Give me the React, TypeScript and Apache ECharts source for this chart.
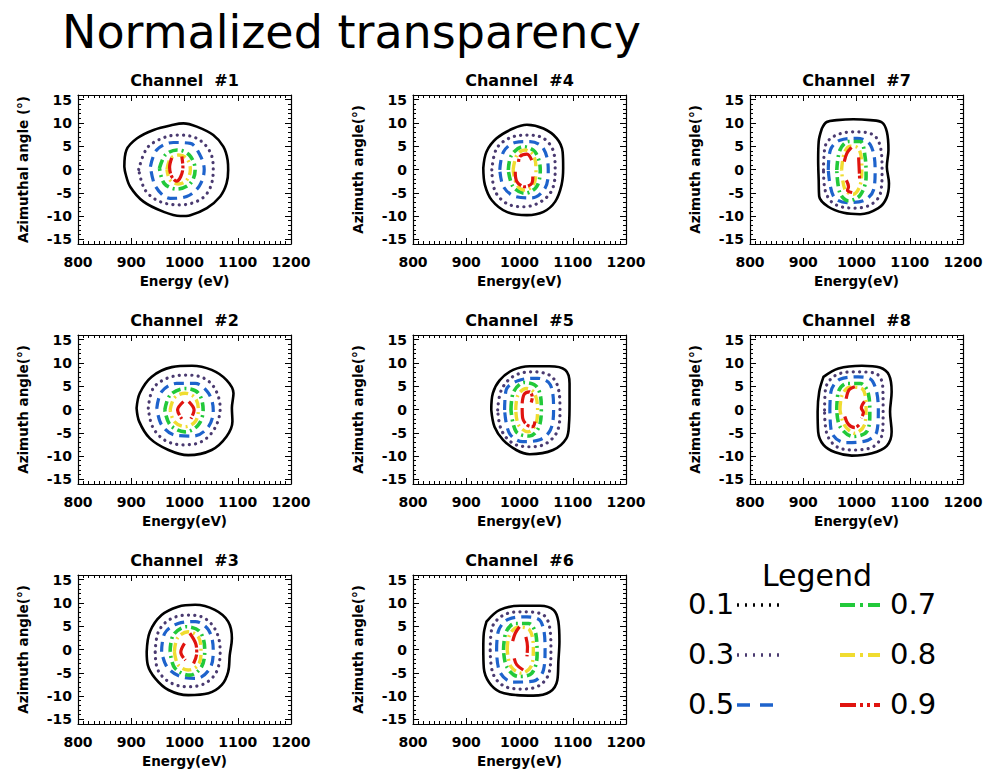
import React, { useEffect, useRef } from 'react';
import * as echarts from 'echarts';

// ---------- axes ----------
const xMin = 800;
const xMax = 1200;
const xStep = 100;
const yMin = -16;
const yMax = 16;
const yMajorTicks = [-15, -10, -5, 0, 5, 10, 15];

// ---------- contour levels ----------
const levelNames = ['0.1', '0.3', '0.5', '0.7', '0.8', '0.9'];

// ---------- contour data per channel: [energy eV, angle deg] ----------
const ch1 = {
  black: [[887, 0.6], [891, 4.2], [911, 6.7], [942, 8.5], [979, 9.6], [998, 9.9], [1023, 9.2], [1054, 7.4], [1073, 4.9], [1081, 2.0], [1082, -0.1], [1079, -3.0], [1067, -5.8], [1042, -8.3], [1011, -9.8], [992, -10.0], [961, -9.1], [923, -6.9], [898, -3.7], [889, -0.8]],
  purple: [[914, 0], [929, 4.5], [954, 6.5], [986, 7.4], [1023, 6.7], [1048, 3.8], [1054, 0], [1048, -4.0], [1029, -6.5], [992, -7.6], [954, -6.9], [926, -4.4]],
  blue: [[936, 0.6], [948, 4.2], [979, 5.8], [1011, 5.6], [1029, 3.1], [1037, 0], [1028, -3.5], [1004, -5.8], [973, -6.2], [946, -3.7]],
  green: [[953, 0.3], [964, 3.1], [986, 4.2], [1009, 3.1], [1020, 0], [1011, -3.0], [986, -4.2], [962, -3.0]],
  yellow: [[967, 0], [974, 2.4], [989, 3.1], [1004, 2.4], [1011, 0], [1004, -2.3], [989, -3.1], [973, -2.3]],
  red: [[[976, 2.5], [972, 0.5], [976, -1.5], [985, -2.5], [993, -1.5], [997, 0.5], [995, 2.8]]],
};

const ch2 = {
  black: [[910, 0.3], [916, 3.5], [938, 7.0], [976, 9.1], [1014, 9.4], [1051, 8.5], [1079, 6.3], [1092, 3.5], [1089, 0.3], [1090, -2.6], [1079, -5.8], [1051, -8.7], [1007, -9.8], [970, -8.7], [935, -6.2], [915, -2.6]],
  purple: [[932, 0.3], [941, 4.5], [967, 6.7], [1001, 7.4], [1035, 6.8], [1057, 4.5], [1067, 0.3], [1057, -4.0], [1032, -6.9], [998, -7.6], [963, -6.6], [940, -3.7]],
  blue: [[948, 0.3], [957, 3.8], [985, 5.6], [1020, 5.6], [1045, 3.5], [1054, -0.1], [1045, -3.7], [1017, -5.7], [982, -5.5], [957, -3.3]],
  green: [[963, -0.1], [973, 3.1], [1001, 4.5], [1026, 3.5], [1035, -0.1], [1026, -3.3], [1001, -4.8], [973, -3.3]],
  yellow: [[973, -0.1], [981, 2.5], [1001, 3.5], [1020, 2.5], [1026, -0.1], [1020, -2.6], [1001, -3.7], [981, -2.6]],
  red: [[[998, 1.7], [987, -0.1], [995, -2.0]], [[1008, 1.7], [1018, -0.1], [1012, -2.0]]],
};

const ch3 = {
  black: [[929, -0.5], [935, 3.8], [957, 7.4], [988, 9.2], [1020, 9.6], [1057, 8.5], [1082, 6.0], [1089, 2.4], [1085, -1.2], [1082, -4.8], [1070, -7.6], [1045, -9.4], [1007, -9.8], [970, -8.7], [945, -6.2], [931, -3.3]],
  purple: [[945, -0.5], [951, 3.8], [973, 6.5], [1007, 7.4], [1038, 6.7], [1060, 3.8], [1067, -0.5], [1060, -4.8], [1038, -7.3], [1007, -8.0], [973, -7.1], [950, -4.4]],
  blue: [[957, -0.5], [963, 3.5], [988, 5.6], [1020, 6.0], [1045, 4.2], [1054, -0.1], [1048, -4.0], [1023, -6.2], [992, -5.8], [967, -3.7]],
  green: [[973, -0.5], [979, 3.1], [1004, 4.9], [1029, 3.8], [1038, -0.1], [1032, -3.7], [1010, -5.5], [982, -4.0]],
  yellow: [[981, -0.5], [987, 2.5], [1007, 3.8], [1026, 2.7], [1031, -0.5], [1026, -3.3], [1007, -4.4], [988, -3.3]],
  red: [[[1000, 1.3], [993, -0.6], [1002, -2.3]], [[1010, 3.5], [1021, 1.3], [1023, -0.8], [1017, -3.0]]],
};

const ch4 = {
  black: [[932, 0.3], [938, 3.8], [957, 6.7], [988, 8.8], [1014, 9.6], [1045, 8.8], [1070, 6.7], [1081, 3.8], [1082, 0.3], [1079, -3.3], [1067, -6.9], [1045, -9.1], [1014, -9.8], [976, -9.1], [948, -6.6], [935, -3.3]],
  purple: [[948, -0.1], [957, 4.5], [982, 6.8], [1014, 7.4], [1045, 6.7], [1064, 3.8], [1067, -0.1], [1061, -4.4], [1039, -7.0], [1007, -8.0], [976, -7.3], [954, -4.6]],
  blue: [[963, -0.1], [970, 3.8], [992, 5.8], [1020, 6.0], [1045, 4.5], [1054, -0.1], [1048, -4.0], [1023, -6.1], [992, -5.8], [970, -3.7]],
  green: [[979, -0.1], [985, 3.1], [1007, 4.9], [1029, 3.8], [1039, -0.1], [1032, -3.7], [1010, -5.1], [988, -3.7]],
  yellow: [[988, -0.1], [995, 3.1], [1010, 4.2], [1026, 3.1], [1031, -0.1], [1026, -3.3], [1010, -4.4], [995, -3.3]],
  red: [[[1023, 2.0], [1014, 3.3], [1001, 2.8], [998, 1.3]], [[992, -0.5], [995, -2.6], [1010, -3.7], [1023, -3.0], [1025, -1.5]]],
};

const ch5 = {
  black: [[947, -0.1], [950, 3.5], [963, 6.3], [988, 8.5], [1019, 9.3], [1056, 9.3], [1086, 8.5], [1094, 5.6], [1094, 1.3], [1093, -3.0], [1088, -6.2], [1063, -8.7], [1019, -9.6], [994, -8.7], [969, -6.5], [953, -3.7]],
  purple: [[959, -0.1], [966, 4.2], [988, 7.1], [1022, 8.1], [1056, 7.4], [1072, 4.9], [1076, -0.1], [1072, -4.4], [1050, -7.3], [1019, -8.0], [988, -7.3], [966, -4.4]],
  blue: [[972, -0.1], [975, 4.2], [997, 6.2], [1034, 6.7], [1058, 5.3], [1064, -0.1], [1058, -4.4], [1038, -6.5], [1006, -6.9], [981, -5.1]],
  green: [[984, -0.1], [989, 3.8], [1009, 5.8], [1033, 4.8], [1041, 0.6], [1038, -3.3], [1019, -5.7], [994, -4.8]],
  yellow: [[993, -0.1], [997, 3.1], [1013, 4.5], [1028, 3.5], [1034, -0.1], [1030, -3.3], [1016, -4.8], [998, -3.3]],
  red: [[[1005, 1.3], [1009, 3.3], [1019, 3.8], [1024, 2.6], [1022, 1.5]], [[1005, 0.3], [1006, -1.9], [1014, -3.3], [1025, -3.7], [1029, -2.6]]],
};

const ch6 = {
  black: [[938, 6.0], [963, 8.5], [1001, 9.4], [1039, 9.4], [1064, 8.5], [1073, 6.0], [1075, 1.7], [1073, -2.6], [1071, -6.6], [1057, -9.1], [1026, -9.9], [995, -9.8], [963, -9.1], [943, -7.1], [933, -4.0], [932, 0.3], [933, 3.5]],
  purple: [[945, -0.1], [948, 4.5], [970, 7.4], [1007, 8.1], [1045, 7.4], [1057, 4.5], [1059, -0.1], [1056, -4.8], [1039, -7.6], [1007, -8.5], [970, -7.8], [950, -5.1]],
  blue: [[957, -0.1], [960, 3.8], [979, 6.5], [1014, 7.0], [1040, 6.0], [1048, -0.1], [1045, -4.4], [1026, -6.8], [988, -7.0], [963, -4.8]],
  green: [[970, -0.1], [975, 3.8], [992, 5.6], [1017, 5.6], [1031, 3.1], [1033, -1.2], [1023, -5.1], [998, -5.8], [976, -3.7]],
  yellow: [[977, -0.1], [981, 3.1], [998, 4.8], [1019, 4.2], [1026, 0.3], [1023, -3.3], [1004, -5.1], [984, -3.7]],
  red: [[[1000, 4.9], [992, 3.5], [987, 1.7]], [[990, -1.9], [995, -3.3], [1007, -4.4]], [[1012, 2.7], [1015, 0.6], [1014, -1.5]]],
};

const ch7 = {
  black: [[935, 8.8], [944, 10.2], [963, 10.6], [994, 10.8], [1026, 10.6], [1048, 10.1], [1057, 8.1], [1060, 4.2], [1057, 0.6], [1061, -3.0], [1056, -6.2], [1041, -8.3], [1007, -9.6], [976, -9.3], [947, -8.0], [930, -5.8], [929, -2.3], [928, 2.0], [929, 6.0]],
  purple: [[938, -0.1], [941, 4.9], [957, 7.1], [994, 8.1], [1032, 7.4], [1046, 4.2], [1048, -0.1], [1045, -5.1], [1026, -7.6], [994, -8.3], [957, -7.3], [941, -4.4]],
  blue: [[947, -0.1], [951, 4.2], [969, 6.3], [1001, 6.7], [1026, 5.3], [1035, -0.1], [1032, -4.4], [1013, -6.7], [982, -7.1], [957, -5.8]],
  green: [[963, -0.1], [969, 4.2], [985, 6.0], [1007, 6.0], [1016, 2.8], [1018, -1.5], [1007, -5.5], [985, -6.7], [969, -5.1]],
  yellow: [[972, -0.1], [977, 3.5], [988, 5.0], [1004, 4.5], [1010, 0.6], [1007, -3.3], [994, -5.3], [979, -4.5]],
  red: [[[977, 1.7], [982, 3.5], [991, 4.8]], [[1004, 2.6], [1006, -2.3]], [[981, -2.3], [985, -3.7], [983, -4.5], [994, -5.0]]],
};

const ch8 = {
  black: [[938, 7.0], [966, 8.8], [1010, 9.4], [1044, 9.0], [1061, 7.4], [1066, 3.8], [1063, -0.5], [1066, -4.8], [1057, -7.8], [1029, -9.4], [991, -9.9], [960, -9.2], [938, -7.6], [928, -4.8], [927, -0.5], [930, 3.8]],
  purple: [[940, -0.1], [942, 4.5], [960, 7.3], [997, 8.1], [1035, 7.8], [1049, 5.3], [1050, -0.1], [1049, -4.8], [1034, -7.8], [997, -8.7], [963, -8.0], [944, -5.1]],
  blue: [[950, -0.1], [952, 3.8], [969, 6.5], [1003, 7.0], [1030, 6.1], [1041, -0.1], [1038, -4.8], [1016, -6.8], [978, -7.1], [953, -4.8]],
  green: [[963, -0.1], [966, 3.8], [982, 5.6], [1007, 5.6], [1022, 3.5], [1025, -0.8], [1019, -4.8], [994, -5.8], [969, -3.7]],
  yellow: [[969, -0.1], [973, 3.1], [988, 4.8], [1010, 4.5], [1018, 1.0], [1016, -3.0], [997, -5.1], [977, -3.3]],
  red: [[[997, 4.9], [986, 4.2], [980, 2.0]], [[1015, 1.7], [1009, 0.3], [1013, -0.6], [1009, -1.9]], [[978, -1.5], [985, -3.2], [997, -3.9], [1005, -3.3]]],
};

const channelTitles = ['Channel  #1', 'Channel  #2', 'Channel  #3', 'Channel  #4', 'Channel  #5', 'Channel  #6', 'Channel  #7', 'Channel  #8'];
const xNames = ['Energy (eV)', 'Energy(eV)', 'Energy(eV)', 'Energy(eV)', 'Energy(eV)', 'Energy(eV)', 'Energy(eV)', 'Energy(eV)'];
const yNames = ['Azimuthal angle (°)', 'Azimuth angle(°)', 'Azimuth angle(°)', 'Azimuth angle(°)', 'Azimuth angle(°)', 'Azimuth angle(°)', 'Azimuth angle(°)', 'Azimuth angle(°)'];
const channels = [ch1, ch2, ch3, ch4, ch5, ch6, ch7, ch8];

// ---------- layout / styles ----------
const colLeft = [78, 413, 750];
const rowTop = [95, 335, 575];
const plotW = 213;
const plotH = 149;
const BOLD = 'DejaVu Sans';

const styles: Record<string, any> = {
  black: { color: '#000000', width: 2.6, type: 'solid', cap: 'round' },
  purple: { color: '#4a3a70', width: 3.2, type: [0.1, 6.2], cap: 'round' },
  blue: { color: '#1e63cc', width: 3.2, type: [10, 6], cap: 'butt' },
  green: { color: '#22c93a', width: 3.6, type: [9, 4, 2, 4], cap: 'butt' },
  yellow: { color: '#f0dc30', width: 3.4, type: [9, 4, 2, 4], cap: 'butt' },
  red: { color: '#e0140f', width: 3.2, type: [16, 2, 3, 2], cap: 'butt' },
};

function buildOption() {
  const grid: any[] = [];
  const xAxis: any[] = [];
  const yAxis: any[] = [];
  const series: any[] = [];
  const graphic: any[] = [];

  graphic.push({
    type: 'text', x: 62, y: 32,
    style: { text: 'Normalized transparency', font: '46px "DejaVu Sans"', fill: '#000', textVerticalAlign: 'middle' },
  });

  channels.forEach((ch, i) => {
    const col = Math.floor(i / 3);
    const row = i % 3;
    const left = colLeft[col];
    const top = rowTop[row];
    grid.push({ left, top, width: plotW, height: plotH, containLabel: false });

    const tickLine = { color: '#000', width: 1 };
    xAxis.push({
      gridIndex: i, type: 'value', position: 'bottom', min: xMin, max: xMax, interval: xStep,
      axisLine: { show: true, onZero: false, lineStyle: { color: '#000', width: 1.2 } },
      axisTick: { show: true, inside: true, length: 6, lineStyle: tickLine },
      minorTick: { show: true, splitNumber: 10, length: 3, lineStyle: tickLine },
      splitLine: { show: false }, minorSplitLine: { show: false },
      axisLabel: {
        margin: 11, color: '#000', fontFamily: BOLD, fontWeight: 'bold', fontSize: 14,
        formatter: (v: number) => String(v),
      },
      name: xNames[i], nameLocation: 'middle', nameGap: 30,
      nameTextStyle: { color: '#000', fontFamily: BOLD, fontWeight: 'bold', fontSize: 13.5 },
    });
    xAxis.push({
      gridIndex: i, type: 'value', position: 'top', min: xMin, max: xMax, interval: xStep,
      axisLine: { show: true, onZero: false, lineStyle: { color: '#000', width: 1.2 } },
      axisTick: { show: true, inside: true, length: 6, lineStyle: tickLine },
      minorTick: { show: true, splitNumber: 10, length: 3, lineStyle: tickLine },
      splitLine: { show: false }, minorSplitLine: { show: false },
      axisLabel: { show: false },
    });
    const yMajor = (pos: string, labels: boolean) => ({
      gridIndex: i, type: 'value', position: pos, min: yMin, max: yMax,
      axisLine: { show: true, onZero: false, lineStyle: { color: '#000', width: 1.2 } },
      axisTick: { show: true, inside: true, length: 6, customValues: yMajorTicks, lineStyle: tickLine },
      splitLine: { show: false },
      axisLabel: labels
        ? {
            show: true, customValues: yMajorTicks, margin: 6, color: '#000', fontFamily: BOLD, fontWeight: 'bold', fontSize: 14,
            formatter: (v: number) => String(v),
          }
        : { show: false },
      ...(labels
        ? {
            name: yNames[i], nameLocation: 'middle', nameGap: 48,
            nameTextStyle: { color: '#000', fontFamily: BOLD, fontWeight: 'bold', fontSize: 13.5 },
          }
        : {}),
    });
    const yMinor = (pos: string) => ({
      gridIndex: i, type: 'value', position: pos, min: yMin, max: yMax, interval: 1,
      axisLine: { show: false, onZero: false },
      axisTick: { show: true, inside: true, length: 3, lineStyle: tickLine },
      splitLine: { show: false },
      axisLabel: { show: false },
    });
    yAxis.push(yMajor('left', true), yMinor('left'), yMajor('right', false), yMinor('right'));

    const xi = 2 * i;
    const yi = 4 * i;
    const addLine = (pts: number[][], key: string, closed: boolean) => {
      const s = styles[key];
      series.push({
        type: 'line', xAxisIndex: xi, yAxisIndex: yi,
        data: closed ? [...pts, pts[0]] : pts,
        smooth: 0.35, showSymbol: false, symbol: 'none', silent: true, clip: true,
        lineStyle: { color: s.color, width: s.width, type: s.type, cap: s.cap, join: 'round' },
        z: 3,
      });
    };
    addLine(ch.black, 'black', true);
    addLine(ch.purple, 'purple', true);
    addLine(ch.blue, 'blue', true);
    addLine(ch.green, 'green', true);
    addLine(ch.yellow, 'yellow', true);
    ch.red.forEach((piece: number[][]) => addLine(piece, 'red', false));

    graphic.push({
      type: 'text', x: left + plotW / 2, y: top - 15,
      style: { text: channelTitles[i], font: `bold 16px "${BOLD}"`, fill: '#000', textAlign: 'center', textVerticalAlign: 'middle' },
    });
  });

  // ---------- legend block ----------
  graphic.push({
    type: 'text', x: 817, y: 575,
    style: { text: 'Legend', font: '30px "DejaVu Sans"', fill: '#000', textAlign: 'center', textVerticalAlign: 'middle' },
  });
  const legendRowsY = [604, 654, 704];
  const leftKeys = ['black', 'purple', 'blue'];
  const rightKeys = ['green', 'yellow', 'red'];
  const legendDash: Record<string, number[]> = {
    black: [2, 6], purple: [2, 6], blue: [13, 10], green: [15, 5, 3, 5], yellow: [15, 5, 3, 5], red: [16, 4, 3, 4, 3, 4],
  };
  legendRowsY.forEach((y, r) => {
    graphic.push({
      type: 'text', x: 688, y,
      style: { text: levelNames[r], font: '29px "DejaVu Sans"', fill: '#000', textVerticalAlign: 'middle' },
    });
    graphic.push({
      type: 'line', shape: { x1: 737, y1: y + 1, x2: 781, y2: y + 1 },
      style: { stroke: styles[leftKeys[r]].color, lineWidth: 3.5, lineDash: legendDash[leftKeys[r]] },
    });
    graphic.push({
      type: 'line', shape: { x1: 840, y1: y + 1, x2: 880, y2: y + 1 },
      style: { stroke: styles[rightKeys[r]].color, lineWidth: 4, lineDash: legendDash[rightKeys[r]] },
    });
    graphic.push({
      type: 'text', x: 890, y,
      style: { text: levelNames[r + 3], font: '29px "DejaVu Sans"', fill: '#000', textVerticalAlign: 'middle' },
    });
  });

  return {
    animation: false,
    backgroundColor: '#ffffff',
    grid, xAxis, yAxis, series, graphic,
  };
}

export default function App() {
  const ref = useRef<HTMLDivElement>(null);
  useEffect(() => {
    if (!ref.current) return;
    const chart = echarts.init(ref.current, null, { renderer: 'svg' });
    chart.setOption(buildOption() as any);
    return () => chart.dispose();
  }, []);
  return (
    <div
      ref={ref}
      style={{ position: 'fixed', left: 0, top: 0, width: 1006, height: 776, background: '#fff' }}
    />
  );
}
